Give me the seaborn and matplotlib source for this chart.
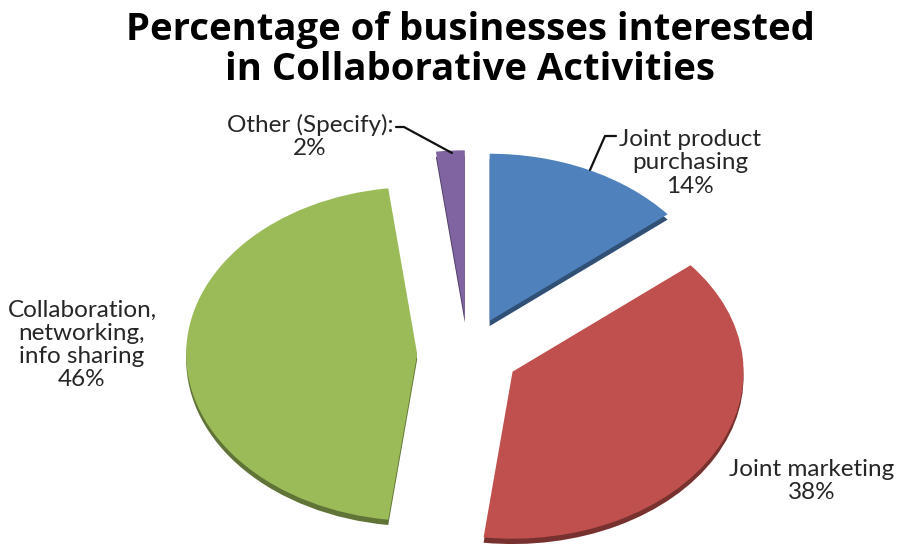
import matplotlib
matplotlib.use("Agg")
import matplotlib.pyplot as plt
import matplotlib.colors as mcolors
from matplotlib.lines import Line2D
import seaborn as sns

# Survey results
categories = ["Joint product purchasing", "Joint marketing",
              "Collaboration, networking, info sharing", "Other (Specify):"]
percentages = [14, 38, 46, 2]
label_texts = ["Joint product\npurchasing", "Joint marketing",
               "Collaboration,\nnetworking,\ninfo sharing", "Other (Specify):"]
colors = ["#4F81BD", "#C0504D", "#9BBB59", "#8064A2"]

sns.set_theme(style="white")
plt.rcParams["font.family"] = ["Lato", "DejaVu Sans"]

W, H = 900, 544
fig = plt.figure(figsize=(W / 100, H / 100), dpi=100)
ax = fig.add_axes([0, 0, 1, 1])

# pixel scale of one pie radius (the pie is tilted, so the vertical radius is shorter)
sx, sy = 231.0, 167.0
cx, cy = 468.0, 354.0
explode = [0.22] * len(percentages)

# darker copy offset downward gives the slab edge of the tilted pie
dark = [mcolors.to_hex([c * 0.62 for c in mcolors.to_rgb(col)]) for col in colors]
shadow, _ = ax.pie(percentages, colors=dark, explode=explode, startangle=90,
                   counterclock=False, center=(0, -0.032), radius=1.0,
                   wedgeprops=dict(linewidth=0))
for w in shadow:
    w.set_zorder(1)
wedges, _ = ax.pie(percentages, colors=colors, explode=explode, startangle=90,
                   counterclock=False, center=(0, 0), radius=1.0,
                   wedgeprops=dict(linewidth=0))
for w in wedges:
    w.set_zorder(2)

ax.set_aspect("auto")
ax.set_xlim(-cx / sx, (W - cx) / sx)
ax.set_ylim(-(H - cy) / sy, cy / sy)
ax.axis("off")


def fp(x, y):
    return (x / W, 1 - y / H)


fig.text(*fp(470, 50), "Percentage of businesses interested\nin Collaborative Activities",
         ha="center", va="center", fontsize=27.5, fontweight="bold",
         family=["Open Sans", "DejaVu Sans"],
         linespacing=1.08, color="#000000")

lab_kw = dict(ha="center", va="center", fontsize=17.5, color="#262626", linespacing=1.12)
label_pos = [(690, 163), (812, 481), (82, 345), (310, 136)]
for txt, pct, (lx, ly) in zip(label_texts, percentages, label_pos):
    fig.text(*fp(lx, ly), f"{txt}\n{pct}%", **lab_kw)

# leader lines for the two small slices
for xs, ys in [([396, 404, 452], [127, 127, 153]),
               ([616, 605, 590], [136, 136, 170])]:
    pts = [fp(x, y) for x, y in zip(xs, ys)]
    fig.add_artist(Line2D([p[0] for p in pts], [p[1] for p in pts],
                          transform=fig.transFigure, color="#111111", lw=1.6))

fig.savefig("out.png", dpi=100)
